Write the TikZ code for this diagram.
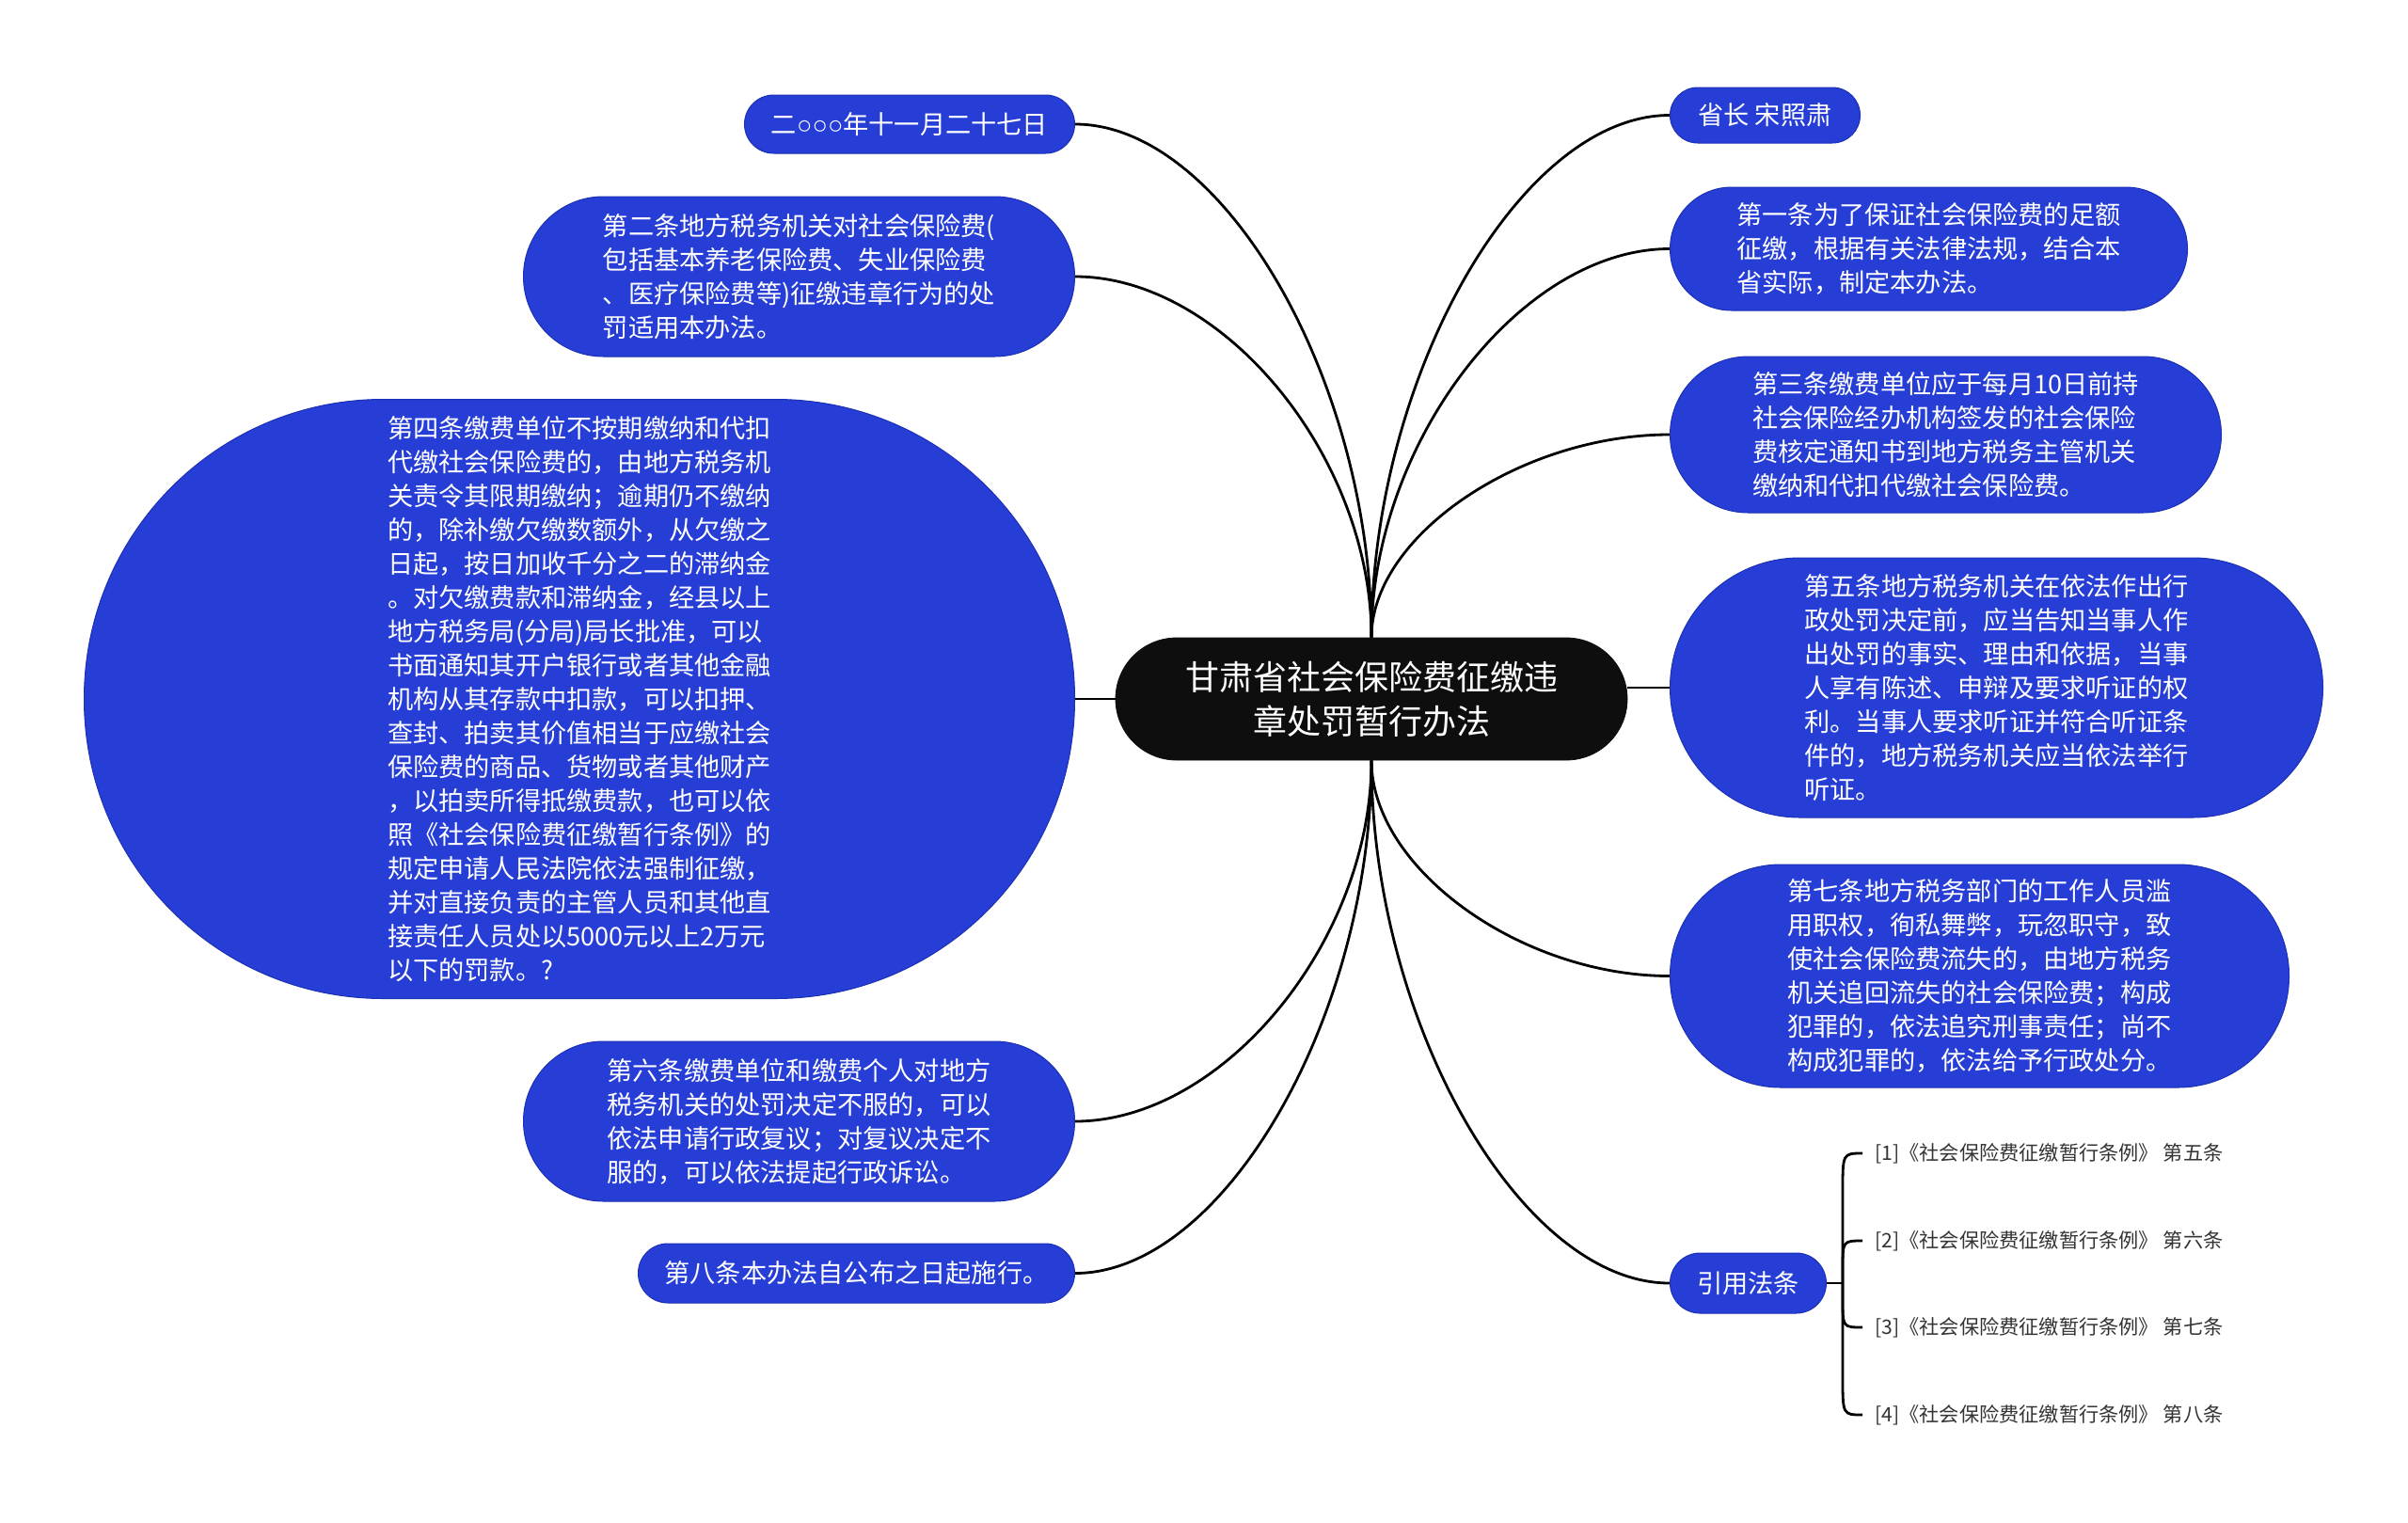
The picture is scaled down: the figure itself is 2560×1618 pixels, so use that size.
\documentclass[tikz,border=0pt]{standalone}
\usepackage{fontspec}
\setmainfont{Noto Sans CJK SC}
\newfontfamily\cjk{Noto Sans CJK SC}
\newfontfamily\latinsans{Liberation Sans}
\usetikzlibrary{calc}
\definecolor{nodeblue}{RGB}{38,62,214}
\definecolor{nodeedge}{RGB}{28,48,180}
\definecolor{rootfill}{RGB}{14,14,14}
\definecolor{citegray}{RGB}{51,51,51}
\pgfdeclarelayer{bg}
\pgfsetlayers{bg,main}
\tikzset{
  topic/.style={rectangle, fill=nodeblue, draw=nodeedge, line width=0.5pt, text=white,
    inner sep=0pt, align=left, font=\cjk\fontsize{13.6pt}{18pt}\selectfont},
  roottopic/.style={rectangle, fill=rootfill, draw=rootfill, text=white, inner sep=0pt,
    align=center, font=\cjk\fontsize{18pt}{23.5pt}\selectfont,
    minimum width=272pt, minimum height=65pt, rounded corners=32.5pt},
  citeitem/.style={inner xsep=6.5pt, inner ysep=2pt, text=citegray, anchor=west,
    font=\cjk\fontsize{10.6pt}{13pt}\selectfont},
  link/.style={draw=black, line width=1.4pt},
}
\newcommand\mmlink[2]{%
  \coordinate (tmpk) at (#1 |- #2);
  \draw[link] (#1) .. controls ($(#1)!0.5!(tmpk)$) and ($(#2)!0.5!(tmpk)$) .. (#2);}
\begin{document}
\begin{tikzpicture}[x=0.5pt,y=-0.5pt]
\path[use as bounding box] (0,0) rectangle (2560,1618);

% root
\node[roottopic] (central) at (1458,743) {甘肃省社会保险费征缴违\\章处罚暂行办法};

% left side
\node[topic, anchor=east, minimum width=175.5pt, minimum height=31pt, rounded corners=15.5pt]
  (date) at (1143,132) {二{\latinsans ○○○}年十一月二十七日};
\node[topic, anchor=east, minimum width=293pt, minimum height=85pt, rounded corners=42.5pt]
  (n2) at (1143,294) {第二条地方税务机关对社会保险费(\\包括基本养老保险费、失业保险费\\、医疗保险费等)征缴违章行为的处\\罚适用本办法。};
\node[topic, anchor=east, minimum width=526.5pt, minimum height=318.5pt, rounded corners=159pt]
  (n4) at (1143,743) {第四条缴费单位不按期缴纳和代扣\\代缴社会保险费的，由地方税务机\\关责令其限期缴纳；逾期仍不缴纳\\的，除补缴欠缴数额外，从欠缴之\\日起，按日加收千分之二的滞纳金\\。对欠缴费款和滞纳金，经县以上\\地方税务局(分局)局长批准，可以\\书面通知其开户银行或者其他金融\\机构从其存款中扣款，可以扣押、\\查封、拍卖其价值相当于应缴社会\\保险费的商品、货物或者其他财产\\，以拍卖所得抵缴费款，也可以依\\照《社会保险费征缴暂行条例》的\\规定申请人民法院依法强制征缴，\\并对直接负责的主管人员和其他直\\接责任人员处以5000元以上2万元\\以下的罚款。?};
\node[topic, anchor=east, minimum width=293pt, minimum height=85pt, rounded corners=42.5pt]
  (n6) at (1143,1192) {第六条缴费单位和缴费个人对地方\\税务机关的处罚决定不服的，可以\\依法申请行政复议；对复议决定不\\服的，可以依法提起行政诉讼。};
\node[topic, anchor=east, minimum width=232pt, minimum height=31.5pt, rounded corners=15.7pt]
  (n8) at (1143,1353.5) {第八条本办法自公布之日起施行。};

% right side
\node[topic, anchor=west, minimum width=101pt, minimum height=29.5pt, rounded corners=14.7pt]
  (gov) at (1775,122.5) {省长 宋照肃};
\node[topic, anchor=west, minimum width=275pt, minimum height=65.5pt, rounded corners=32.7pt]
  (n1) at (1775,264.5) {第一条为了保证社会保险费的足额\\征缴，根据有关法律法规，结合本\\省实际，制定本办法。};
\node[topic, anchor=west, minimum width=293pt, minimum height=83pt, rounded corners=41.5pt]
  (n3) at (1775,462) {第三条缴费单位应于每月10日前持\\社会保险经办机构签发的社会保险\\费核定通知书到地方税务主管机关\\缴纳和代扣代缴社会保险费。};
\node[topic, anchor=west, minimum width=347pt, minimum height=138pt, rounded corners=69pt]
  (n5) at (1775,731) {第五条地方税务机关在依法作出行\\政处罚决定前，应当告知当事人作\\出处罚的事实、理由和依据，当事\\人享有陈述、申辩及要求听证的权\\利。当事人要求听证并符合听证条\\件的，地方税务机关应当依法举行\\听证。};
\node[topic, anchor=west, minimum width=329pt, minimum height=118.5pt, rounded corners=59pt]
  (n7) at (1775,1037.5) {第七条地方税务部门的工作人员滥\\用职权，徇私舞弊，玩忽职守，致\\使社会保险费流失的，由地方税务\\机关追回流失的社会保险费；构成\\犯罪的，依法追究刑事责任；尚不\\构成犯罪的，依法给予行政处分。};
\node[topic, anchor=west, minimum width=83pt, minimum height=32pt, rounded corners=16pt]
  (cite) at (1775,1364) {引用法条};

% citations
\node[citeitem] (c1) at (1980,1226) {[1]《社会保险费征缴暂行条例》 第五条};
\node[citeitem] (c2) at (1980,1319) {[2]《社会保险费征缴暂行条例》 第六条};
\node[citeitem] (c3) at (1980,1411) {[3]《社会保险费征缴暂行条例》 第七条};
\node[citeitem] (c4) at (1980,1504) {[4]《社会保险费征缴暂行条例》 第八条};
\coordinate (hub) at (1959,1364);

\begin{pgfonlayer}{bg}
  \fill[white] (0,0) rectangle (2560,1618);
  \mmlink{central.north}{date.east}
  \mmlink{central.north}{n2.east}
  \mmlink{central.north}{gov.west}
  \mmlink{central.north}{n1.west}
  \mmlink{central.north}{n3.west}
  \mmlink{central.south}{n6.east}
  \mmlink{central.south}{n8.east}
  \mmlink{central.south}{n7.west}
  \mmlink{central.south}{cite.west}
  \draw[link] (central.west) -- (n4.east);
  \draw[link] (central.east |- n5.west) -- (n5.west);
  \draw[link] (cite.east) -- (hub);
  \draw[link] (hub) -- ($(hub |- c1.west)+(0,40)$) .. controls (hub |- c1.west) .. (c1.west);
  \draw[link] (hub) -- ($(hub |- c2.west)+(0,30)$) .. controls (hub |- c2.west) .. (c2.west);
  \draw[link] (hub) -- ($(hub |- c3.west)+(0,-30)$) .. controls (hub |- c3.west) .. (c3.west);
  \draw[link] (hub) -- ($(hub |- c4.west)+(0,-40)$) .. controls (hub |- c4.west) .. (c4.west);
\end{pgfonlayer}
\end{tikzpicture}
\end{document}
